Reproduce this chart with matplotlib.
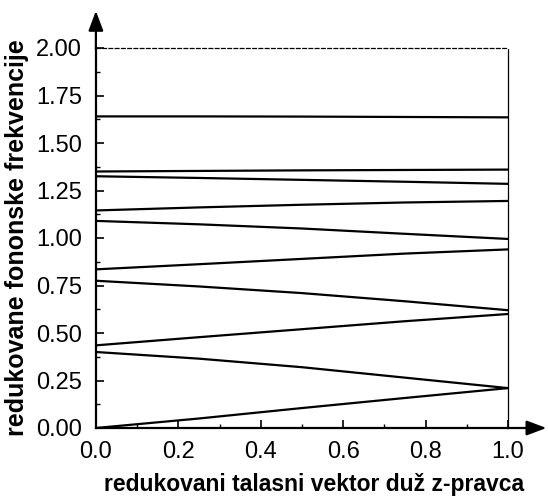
import matplotlib
matplotlib.use("Agg")
import matplotlib.pyplot as plt
from matplotlib.ticker import MultipleLocator, FormatStrFormatter

plt.rcParams["font.family"] = ["Liberation Sans", "DejaVu Sans"]

# reduced wave vector samples
q = [0.0, 0.25, 0.5, 0.75, 1.0]

# reduced phonon frequencies, one list per branch
branch_1 = [0.00, 0.05, 0.105, 0.158, 0.21]
branch_2 = [0.40, 0.365, 0.32, 0.265, 0.21]
branch_3 = [0.435, 0.478, 0.52, 0.562, 0.60]
branch_4 = [0.775, 0.745, 0.71, 0.667, 0.62]
branch_5 = [0.835, 0.862, 0.89, 0.918, 0.94]
branch_6 = [1.09, 1.072, 1.05, 1.022, 0.995]
branch_7 = [1.145, 1.161, 1.175, 1.187, 1.195]
branch_8 = [1.325, 1.316, 1.306, 1.296, 1.285]
branch_9 = [1.35, 1.353, 1.356, 1.358, 1.36]
branch_10 = [1.64, 1.64, 1.639, 1.637, 1.635]
branches = [branch_1, branch_2, branch_3, branch_4, branch_5,
            branch_6, branch_7, branch_8, branch_9, branch_10]

fig = plt.figure(figsize=(5.48, 5.0), dpi=100)
ax = fig.add_axes([0.175, 0.144, 0.752, 0.760])

for b in branches:
    ax.plot(q, b, color="black", linewidth=1.6)

ax.set_xlim(0, 1.0)
ax.set_ylim(0, 2.0)
ax.xaxis.set_major_locator(MultipleLocator(0.2))
ax.xaxis.set_minor_locator(MultipleLocator(0.1))
ax.yaxis.set_major_locator(MultipleLocator(0.25))
ax.yaxis.set_minor_locator(MultipleLocator(0.125))
ax.xaxis.set_major_formatter(FormatStrFormatter("%.1f"))
ax.yaxis.set_major_formatter(FormatStrFormatter("%.2f"))
ax.tick_params(which="major", direction="in", length=6, width=1.2, labelsize=17)
ax.tick_params(axis="y", which="major", pad=10)
ax.tick_params(axis="x", which="major", pad=9)
ax.tick_params(which="minor", direction="in", length=3, width=1.0)

ax.spines["left"].set_linewidth(1.6)
ax.spines["bottom"].set_linewidth(1.6)
ax.spines["top"].set_linestyle((0, (3, 2)))
ax.spines["top"].set_linewidth(0.9)
ax.spines["right"].set_linestyle((0, (1, 1)))
ax.spines["right"].set_linewidth(0.9)

# axis arrows
ax.annotate("", xy=(0, 1.105), xytext=(0, 0.99), xycoords="axes fraction",
            arrowprops=dict(arrowstyle="-|>,head_length=1.2,head_width=0.45",
                            color="black", lw=1.6), annotation_clip=False)
ax.annotate("", xy=(1.1, 0), xytext=(0.99, 0), xycoords="axes fraction",
            arrowprops=dict(arrowstyle="-|>,head_length=1.2,head_width=0.45",
                            color="black", lw=1.6), annotation_clip=False)

ax.set_xlabel("redukovani talasni vektor duž z-pravca", fontsize=16.5,
              fontweight="bold")
ax.xaxis.set_label_coords(0.53, -0.118)
ax.set_ylabel("redukovane fononske frekvencije", fontsize=18,
              fontweight="bold", labelpad=5)

fig.savefig("out.png", dpi=100)
